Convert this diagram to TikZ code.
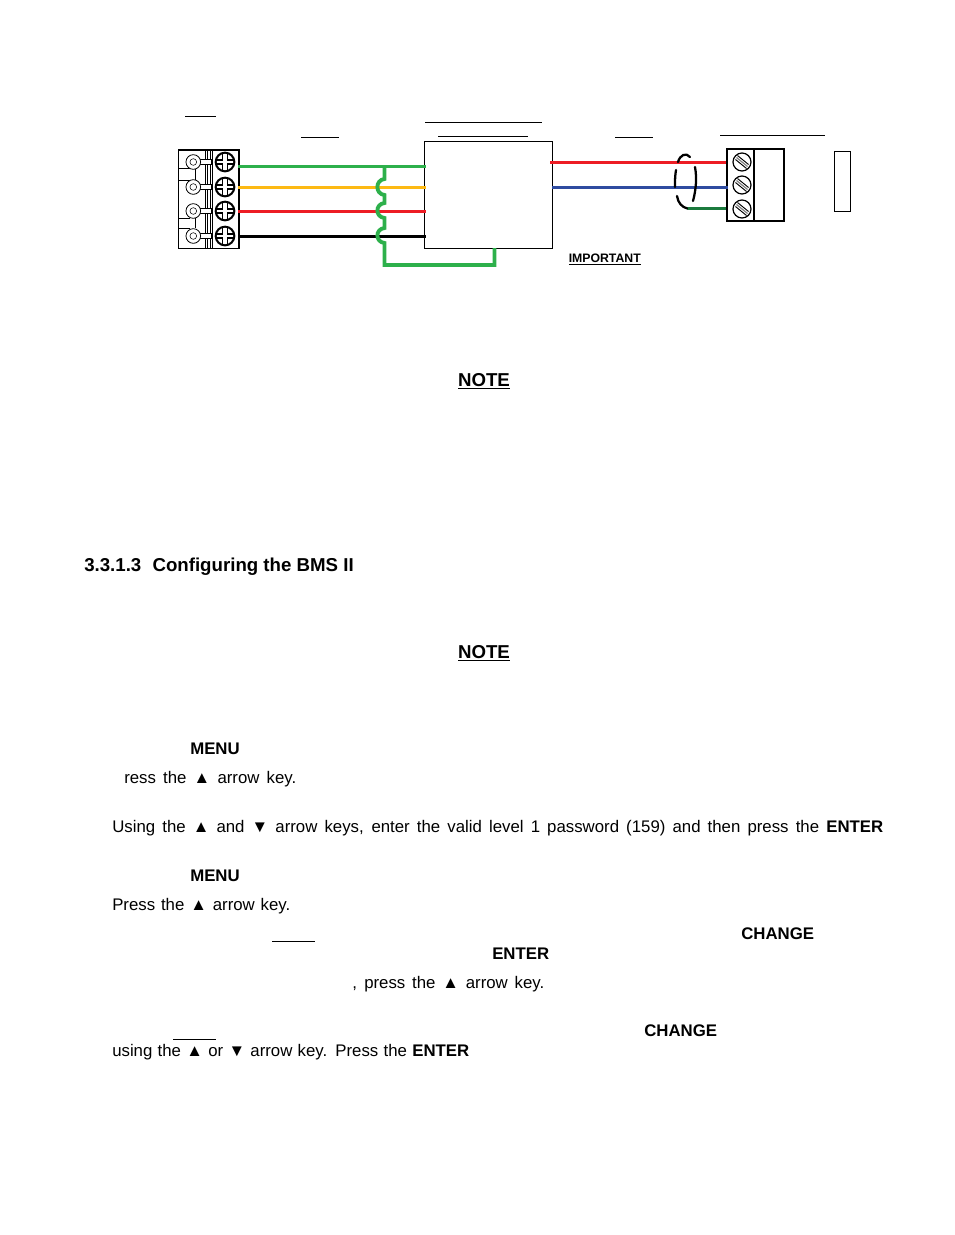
\documentclass[tikz,border=0pt]{standalone}
\usepackage{fontspec}
\setmainfont{Liberation Sans}
\definecolor{wgreen}{HTML}{2DB04B}
\definecolor{wyellow}{HTML}{FDB913}
\definecolor{wred}{HTML}{ED1C24}
\definecolor{wblue}{HTML}{2E4BA0}
\definecolor{wdark}{HTML}{1B7A3D}
\tikzset{
  wire/.style={line width=2.5pt},
  rule/.style={line width=0.75pt},
  shield/.style={line width=1.7pt, line cap=round},
  body/.style={anchor=base west, inner sep=0pt, font=\fontsize{12.6pt}{15pt}\selectfont},
  bodybf/.style={body, font=\fontsize{12.6pt}{15pt}\selectfont\bfseries},
  heading/.style={anchor=base, inner sep=0pt, font=\fontsize{14pt}{16pt}\selectfont\bfseries},
  ring/.style={circle, draw, inner sep=0pt, minimum size=11pt, line width=0.6pt},
  screw/.style={circle, draw, inner sep=0pt, minimum size=14pt, line width=1.5pt},
  slot/.style={circle, draw, inner sep=0pt, minimum size=13.5pt, line width=0.9pt}
}
\begin{document}
\begin{tikzpicture}[x=0.75pt, y=-0.75pt]
  \useasboundingbox (0,0) rectangle (954,1235);

  \node[draw, line width=0.75pt, inner sep=0pt, minimum width=96pt, minimum height=80.25pt] (ctrl) at (488.5,194.8) {};
  \node[draw, line width=0.75pt, inner sep=0pt, minimum width=12pt, minimum height=45.4pt] (sens) at (842.5,181.3) {};

  \draw[line width=0.75pt] (178,150) -- (178,248) -- (240,248);
  \draw[line width=1.6pt] (178,150) -- (239,150) -- (239,248);
  \draw[line width=0.6pt] (205.7,150) -- (205.7,248);
  \draw[line width=0.6pt] (207.8,150) -- (207.8,248);
  \draw[line width=0.75pt] (210.7,150) -- (210.7,248);
  \draw[line width=0.75pt] (212.3,150) -- (212.3,248);
  \draw[line width=0.75pt] (178,168) -- (191,168);
  \draw[line width=0.75pt] (178,180) -- (190,180);
  \draw[line width=0.75pt] (195,168) -- (195,180);
  \draw[line width=0.75pt] (178,218) -- (190,218);
  \draw[line width=0.75pt] (178,228) -- (190,228);
  \draw[line width=0.75pt] (195,218) -- (195,228);

  \foreach \n/\yy in {a/162, b/187, c/211, d/236} {
    \draw[fill=white, line width=0.6pt] (197,\yy-2.5) rectangle (211.5,\yy+2.5);
    \node[ring, fill=white] (ring\n) at (193.3,\yy) {};
    \node[circle, draw, inner sep=0pt, minimum size=5pt, line width=0.4pt] (eye\n) at (193.3,\yy) {};
    \node[screw, fill=white] (sc\n) at (225,\yy) {};
    \draw[line width=0.8pt] (216,\yy-2) -- (222.7,\yy-2) -- (222.7,\yy-9);
    \draw[line width=0.8pt] (227.3,\yy-9) -- (227.3,\yy-2) -- (234,\yy-2);
    \draw[line width=0.8pt] (216,\yy+2) -- (222.7,\yy+2) -- (222.7,\yy+9);
    \draw[line width=0.8pt] (227.3,\yy+9) -- (227.3,\yy+2) -- (234,\yy+2);
  }

  \coordinate (ga) at (238,166.4);
  \coordinate (ya) at (238,187.4);
  \coordinate (ra) at (238,211.4);
  \coordinate (ka) at (238,236.4);
  \coordinate (gb) at (425.5,166.4);
  \coordinate (yb) at (425.5,187.4);
  \coordinate (rb) at (425.5,211.4);
  \coordinate (kb) at (425.5,236.4);

  \draw[wire, wyellow] (ya) -- (yb);
  \draw[wire, wred] (ra) -- (rb);
  \draw[wire, black] (ka) -- (kb);
  \draw[wire, wgreen] (ga) -- (gb);

  \coordinate (top) at (384.5,166);
  \coordinate (low) at (384.5,265);
  \coordinate (end) at (494.5,265);
  \coordinate (up) at (494.5,248);
  \draw[wgreen, line width=2.9pt] (top) -- (384.5,179)
    .. controls (375,180) and (375,194) .. (384.5,195) -- (384.5,203)
    .. controls (375,204) and (375,217) .. (384.5,218) -- (384.5,228)
    .. controls (375,229) and (375,242) .. (384.5,243) -- (low) -- (end) -- (up);

  \node[draw, line width=1.5pt, inner sep=0pt, minimum width=42.75pt, minimum height=53.6pt] (term) at (755,184.8) {};
  \draw[line width=1.5pt] (754,149) -- (754,221);
  \foreach \n/\yy in {a/162, b/185, c/209} {
    \node[slot] (sl\n) at (742,\yy) {};
    \draw[line width=0.7pt] (735.5,\yy-2.5) -- (746.5,\yy+6.5);
    \draw[line width=0.7pt] (737.5,\yy-6.5) -- (748.5,\yy+2.5);
    \draw[line width=0.9pt, gray] (736.5,\yy-4.5) -- (747.5,\yy+4.5);
  }

  \coordinate (re) at (726,162.4);
  \coordinate (be) at (728,187.4);
  \coordinate (de) at (726,208.4);
  \coordinate (ds) at (687,208.4);
  \draw[wire, wred] (550,162.4) -- (re);
  \draw[wire, wblue] (552,187.4) -- (be);
  \draw[wire, wdark] (ds) -- (de);

  \draw[shield] (ds) .. controls (682,207) and (678,203) .. (677,196);
  \draw[shield] (675,187) .. controls (675,180) and (675,176) .. (676,170);
  \draw[shield] (678,162) .. controls (680,155) and (686,152) .. (690,157);
  \draw[shield] (695,167) .. controls (697,178) and (696,190) .. (693,201);

  \draw[rule] (185,116) -- (216,116);
  \draw[rule] (301,137) -- (339,137);
  \draw[rule] (425,122) -- (542,122);
  \draw[rule] (438,136) -- (528,136);
  \draw[rule] (615,137) -- (653,137);
  \draw[rule] (720,135) -- (825,135);
  \draw[rule] (272,941) -- (315,941);
  \draw[rule] (173,1039) -- (216,1039);

  \node[anchor=base west, inner sep=0pt, font=\fontsize{9.2pt}{11pt}\selectfont\bfseries] (imp) at (568.5,262.5) {\underline{IMPORTANT}};
  \node[heading] (note1) at (484,386) {\underline{NOTE}};
  \node[heading, anchor=base west] (sec) at (84,571) {3.3.1.3\hspace{0.6em}Configuring the BMS II};
  \node[heading] (note2) at (484,658) {\underline{NOTE}};
  \node[bodybf] (menu1) at (190,754.5) {MENU};
  \node[body] (s1) at (124,783) {\makebox[129pt][s]{ress the ▲ arrow key.}};
  \node[body] (s2) at (112,832) {\makebox[578.25pt][s]{Using the ▲ and ▼ arrow keys, enter the valid level 1 password (159) and then press the \textbf{ENTER}}};
  \node[bodybf] (menu2) at (190,881) {MENU};
  \node[body] (s3) at (112,910) {\makebox[133.5pt][s]{Press the ▲ arrow key.}};
  \node[bodybf] (chg1) at (741,939) {CHANGE};
  \node[bodybf] (ent1) at (492,959) {ENTER};
  \node[body] (s4) at (352,988) {\makebox[144pt][s]{, press the ▲ arrow key.}};
  \node[bodybf] (chg2) at (644,1036) {CHANGE};
  \node[body] (s5) at (112,1056) {\makebox[267.75pt][s]{using the ▲ or ▼ arrow key. Press the \textbf{ENTER}}};
\end{tikzpicture}
\end{document}
